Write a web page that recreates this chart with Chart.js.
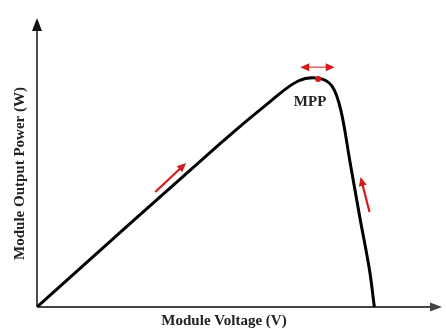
<!DOCTYPE html>
<html>
<head>
<meta charset="utf-8">
<script src="https://cdn.jsdelivr.net/npm/chart.js@4/dist/chart.umd.min.js"></script>
<style>
  html, body { margin: 0; padding: 0; background: #fff; }
  canvas { display: block; }
</style>
</head>
<body>
<canvas id="pv" width="446" height="329"></canvas>
<script>
// P-V curve (arbitrary units, 0-100 on both axes)
const voltage = [0, 45.0, 58.0, 64.5, 69.4, 72.8, 75.0, 77.2, 79.7, 82.1, 83.3];
const power   = [0, 56.3, 71.6, 78.2, 79.2, 76.5, 68.2, 50.9, 31.1, 12.8, 0];

// maximum power point
const mpp = { v: 69.4, p: 78.9 };

// red direction arrows as [fromV, fromP, toV, toP]
const climbArrow = [29.2, 39.8, 36.8, 49.8];
const fallArrow  = [82.1, 32.9, 79.9, 45.0];
const mppArrow   = [65.0, 83.0, 73.5, 83.0];

const xTitle = 'Module Voltage (V)';
const yTitle = 'Module Output Power (W)';
const red = '#d41a1a';
const serifBold = 'bold 15px "Liberation Serif", "Times New Roman", serif';

const pts = voltage.map((v, i) => ({ x: v, y: power[i] }));

const drawArrowHead = (ctx, x1, y1, x2, y2, len, wid) => {
    const a = Math.atan2(y2 - y1, x2 - x1);
    ctx.beginPath();
    ctx.moveTo(x2, y2);
    ctx.lineTo(x2 - len * Math.cos(a) + wid * Math.sin(a), y2 - len * Math.sin(a) - wid * Math.cos(a));
    ctx.lineTo(x2 - len * Math.cos(a) - wid * Math.sin(a), y2 - len * Math.sin(a) + wid * Math.cos(a));
    ctx.closePath();
    ctx.fill();
};

const arrow = (ctx, x1, y1, x2, y2, color, lw, len, wid) => {
    const a = Math.atan2(y2 - y1, x2 - x1);
    ctx.strokeStyle = color;
    ctx.fillStyle = color;
    ctx.lineWidth = lw;
    ctx.beginPath();
    ctx.moveTo(x1, y1);
    ctx.lineTo(x2 - len * 0.8 * Math.cos(a), y2 - len * 0.8 * Math.sin(a));
    ctx.stroke();
    drawArrowHead(ctx, x1, y1, x2, y2, len, wid);
};

const decorations = {
    id: 'decorations',
    beforeDatasetsDraw(chart) {
        const { ctx, chartArea: ca } = chart;
        ctx.save();
        // x axis
        arrow(ctx, ca.left, ca.bottom, ca.right, ca.bottom, '#444', 2, 12, 4.5);
        // y axis
        arrow(ctx, ca.left, ca.bottom, ca.left, ca.top, '#111', 1.5, 13, 5);
        ctx.restore();
    },
    afterDatasetsDraw(chart) {
        const { ctx, chartArea: ca, scales: { x, y } } = chart;
        ctx.save();
        const seg = (s) => [x.getPixelForValue(s[0]), y.getPixelForValue(s[1]), x.getPixelForValue(s[2]), y.getPixelForValue(s[3])];

        let [a, b, c, d] = seg(climbArrow);
        arrow(ctx, a, b, c, d, red, 2.2, 9, 4);
        [a, b, c, d] = seg(fallArrow);
        arrow(ctx, a, b, c, d, red, 2.2, 9, 4);

        // double-headed arrow above MPP
        [a, b, c, d] = seg(mppArrow);
        ctx.strokeStyle = red;
        ctx.fillStyle = red;
        ctx.lineWidth = 1;
        ctx.beginPath();
        ctx.moveTo(a + 6, b);
        ctx.lineTo(c - 6, d);
        ctx.stroke();
        drawArrowHead(ctx, c, d, a, b, 9, 4);
        drawArrowHead(ctx, a, b, c, d, 9, 4);

        // labels
        ctx.fillStyle = '#222';
        ctx.font = serifBold;
        ctx.textAlign = 'center';
        ctx.textBaseline = 'middle';
        ctx.fillText('MPP', x.getPixelForValue(mpp.v) - 8, y.getPixelForValue(mpp.p) + 23);
        ctx.fillText(xTitle, 224, ca.bottom + 14);
        ctx.translate(20, (ca.top + ca.bottom) / 2 + 11);
        ctx.rotate(-Math.PI / 2);
        ctx.fillText(yTitle, 0, 0);
        ctx.restore();
    }
};

new Chart(document.getElementById('pv'), {
    type: 'scatter',
    data: {
        datasets: [
            {
                data: [{ x: mpp.v, y: mpp.p }],
                pointRadius: 3,
                pointBackgroundColor: red,
                pointBorderWidth: 0,
                showLine: false
            },
            {
                data: pts,
                showLine: true,
                borderColor: '#000',
                borderWidth: 3,
                pointRadius: 0,
                tension: 0.35,
                fill: false
            }
        ]
    },
    options: {
        responsive: false,
        animation: false,
        layout: { padding: { left: 37, right: 1, top: 18, bottom: 22 } },
        plugins: { legend: { display: false }, tooltip: { enabled: false } },
        scales: {
            x: { type: 'linear', min: 0, max: 100, display: false },
            y: { type: 'linear', min: 0, max: 100, display: false }
        }
    },
    plugins: [decorations]
});
</script>
</body>
</html>
